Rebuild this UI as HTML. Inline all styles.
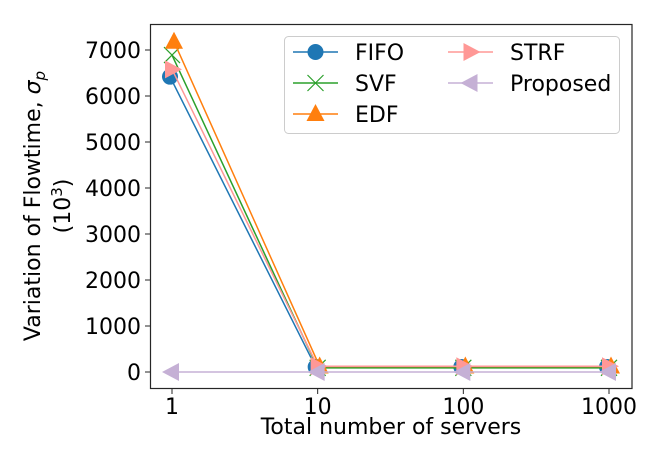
<!DOCTYPE html>
<html><head><meta charset="utf-8"><style>
body{margin:0;background:#fff}
svg{display:block;font-family:"DejaVu Sans","Liberation Sans",sans-serif}
</style></head><body>
<svg id="chart" width="660" height="462" viewBox="0 0 660 462" xmlns="http://www.w3.org/2000/svg">
<rect x="0" y="0" width="660" height="462" fill="#fff"/>
<g id="grid"></g>
<g id="series"></g>
<rect x="150.5" y="24.5" width="481.5" height="364" fill="none" stroke="#262626" stroke-width="1.2"/>
<g id="axes"></g>
<text x="391" y="434" font-size="22" text-anchor="middle">Total number of servers</text>
<text transform="translate(40,206) rotate(-90)" font-size="22" text-anchor="middle"><tspan x="0" dy="0">Variation of Flowtime, <tspan font-style="italic">σ</tspan><tspan font-style="italic" font-size="15" dy="5">p</tspan></tspan><tspan x="0" dy="25">(10<tspan font-size="15" dy="-8">3</tspan><tspan dy="8">)</tspan></tspan></text>
<g id="legend"></g>
</svg>
<script>
const categories=["1","10","100","1000"];
const yTicks=[0,1000,2000,3000,4000,5000,6000,7000];
const fifo=[6420,110,110,110];
const svf=[6890,90,90,90];
const edf=[7180,120,120,120];
const strf=[6580,125,125,125];
const proposed=[0,0,0,0];
const NS="http://www.w3.org/2000/svg";
const svg=document.getElementById('chart');
function xs(i){return 172+i*(609-172)/(categories.length-1);}
function ys(v){return 372-v*(322/7000);}
function mk(tag,attrs,parent){const e=document.createElementNS(NS,tag);for(const k in attrs)e.setAttribute(k,attrs[k]);parent.appendChild(e);return e;}
const axes=document.getElementById('axes');
yTicks.forEach(t=>{
  const l=mk('line',{x1:145,x2:150,y1:ys(t),y2:ys(t),stroke:'#262626'},axes);
  
  
  const tx=mk('text',{x:141,y:ys(t)+8,'font-size':22,'text-anchor':'end'},axes);
  
  
  tx.textContent=t;
});
categories.forEach((c,i)=>{
  const l=mk('line',{x1:xs(i),x2:xs(i),y1:389,y2:394,stroke:'#262626'},axes);
  
  
  const tx=mk('text',{x:xs(i),y:414,'font-size':22,'text-anchor':'middle'},axes);
  
  
  tx.textContent=c;
});
function marker(type,x,y,color,parent){
  let e;
  if(type==='o')e=mk('circle',{cx:x,cy:y,r:8,fill:color},parent);
  else if(type==='x')e=mk('path',{d:`M${x-8},${y-8}L${x+8},${y+8}M${x-8},${y+8}L${x+8},${y-8}`,stroke:color,'stroke-width':1.2,fill:'none'},parent);
  else if(type==='^')e=mk('path',{d:`M${x},${y-10}L${x+9},${y+7}L${x-9},${y+7}Z`,fill:color},parent);
  else if(type==='>')e=mk('path',{d:`M${x+10},${y}L${x-7},${y-9}L${x-7},${y+9}Z`,fill:color},parent);
  else e=mk('path',{d:`M${x-10},${y}L${x+7},${y-9}L${x+7},${y+9}Z`,fill:color},parent);
  return e;
}
const seriesList=[
  {name:'FIFO',data:fifo,color:'#1f77b4',m:'o',dx:-2},
  {name:'SVF',data:svf,color:'#2ca02c',m:'x',dx:0},
  {name:'EDF',data:edf,color:'#ff7f0e',m:'^',dx:2},
  {name:'STRF',data:strf,color:'#ff9896',m:'>',dx:0},
  {name:'Proposed',data:proposed,color:'#c5b0d5',m:'<',dx:0}
];
const sg=document.getElementById('series');
seriesList.forEach(s=>{
  const g=mk('g',{},sg);
  
  
  const pts=s.data.map((v,i)=>(xs(i)+s.dx)+','+ys(v)).join(' ');
  const pl=mk('polyline',{points:pts,fill:'none',stroke:s.color,'stroke-width':1.5},g);
  
  
  s.data.forEach((v,i)=>{
    const m=marker(s.m,xs(i)+s.dx,ys(v),s.color,g);
    
    
  });
});
const lg=document.getElementById('legend');


mk('rect',{x:284.5,y:36.5,width:335,height:97,rx:4,fill:'#fff','fill-opacity':0.8,stroke:'#ccc'},lg);
seriesList.forEach((s,i)=>{
  const col=i<3?0:1,row=i<3?i:i-3;
  const x0=col?448:293,y=52+row*31;
  const g=mk('g',{},lg);
  
  
  mk('line',{x1:x0,x2:x0+45,y1:y,y2:y,stroke:s.color,'stroke-width':1.5},g);
  marker(s.m,x0+22.5,y,s.color,g);
  const t=mk('text',{x:x0+62,y:y+8,'font-size':22},g);
  t.textContent=s.name;
});
</script>
</body></html>
